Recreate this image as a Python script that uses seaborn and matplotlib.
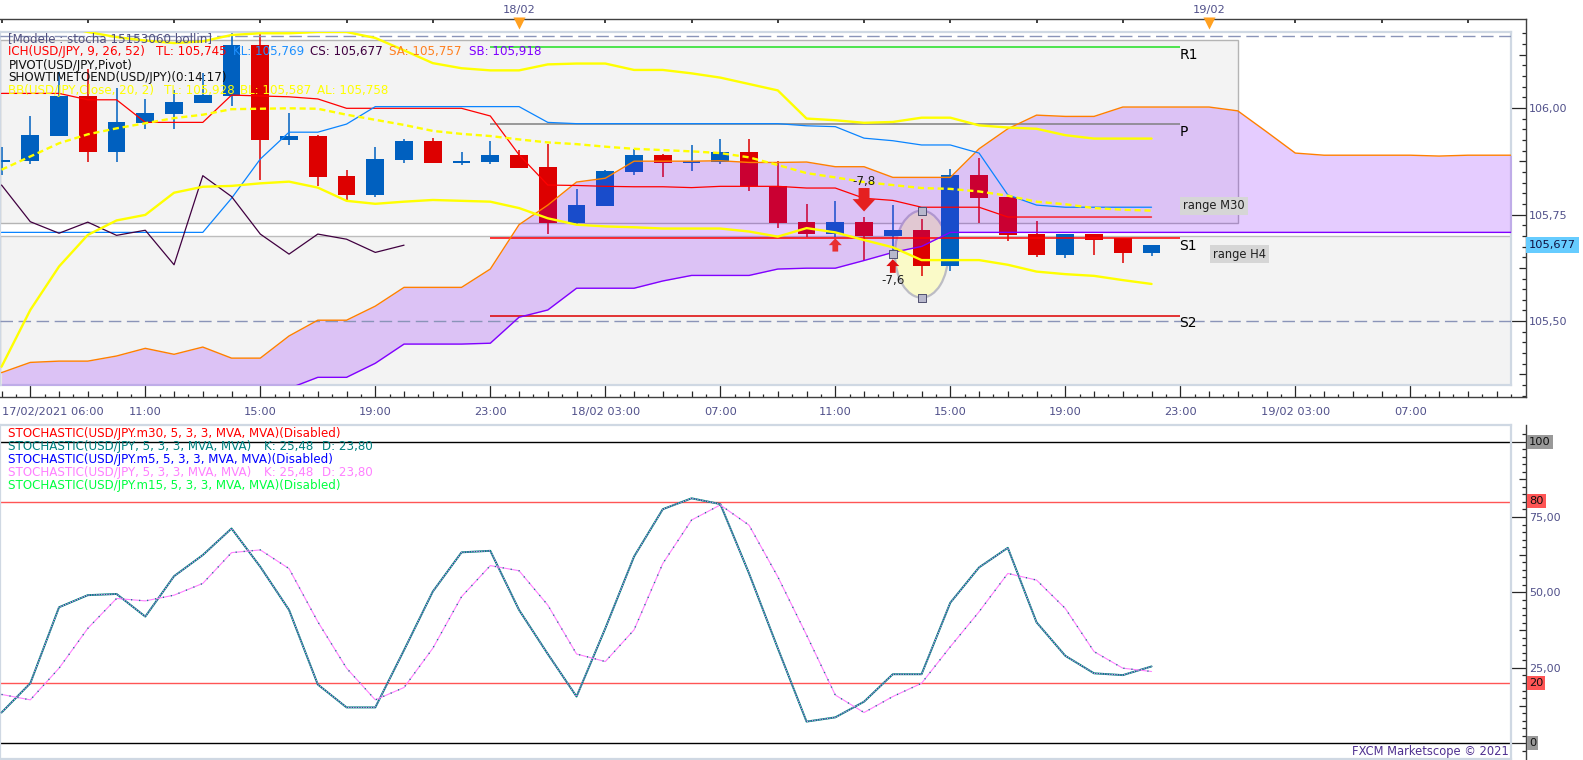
import numpy as np
import matplotlib
matplotlib.use('Agg')
import matplotlib.pyplot as plt
from matplotlib.patches import Ellipse, Rectangle
import seaborn as sns

W, H = 1583, 760

# hours counted from 17/02 00:00
hours = list(range(6, 47))
cloud_hours = list(range(6, 60))

candle_open = [105.872, 105.876, 105.934, 106.028, 105.897, 105.965, 105.986, 106.012, 106.028, 106.148,
               105.925, 105.934, 105.840, 105.796, 105.878, 105.923, 105.871, 105.873, 105.890, 105.862,
               105.730, 105.770, 105.850, 105.890, 105.871, 105.873, 105.897, 105.817, 105.733, 105.704,
               105.733, 105.700, 105.714, 105.629, 105.843, 105.791, 105.704, 105.655, 105.704, 105.694, 105.660]
candle_close = [105.878, 105.937, 106.028, 105.897, 105.967, 105.988, 106.014, 106.030, 106.148, 105.925,
                105.934, 105.838, 105.796, 105.880, 105.923, 105.871, 105.875, 105.890, 105.859, 105.730,
                105.772, 105.852, 105.890, 105.871, 105.876, 105.897, 105.817, 105.730, 105.704, 105.733,
                105.700, 105.714, 105.629, 105.843, 105.789, 105.702, 105.655, 105.704, 105.690, 105.660, 105.679]
candle_high = [105.909, 105.981, 106.085, 106.091, 106.046, 106.021, 106.042, 106.081, 106.190, 106.190,
               105.988, 105.937, 105.855, 105.909, 105.926, 105.930, 105.897, 105.923, 105.901, 105.916,
               105.810, 105.855, 105.903, 105.892, 105.913, 105.927, 105.927, 105.876, 105.775, 105.782,
               105.744, 105.772, 105.740, 105.857, 105.883, 105.791, 105.735, 105.704, 105.704, 105.694, 105.679]
candle_low = [105.843, 105.869, 105.934, 105.873, 105.873, 105.951, 105.951, 106.012, 106.005, 105.831,
              105.913, 105.817, 105.784, 105.792, 105.871, 105.871, 105.866, 105.869, 105.859, 105.704,
              105.728, 105.770, 105.843, 105.838, 105.852, 105.869, 105.805, 105.718, 105.697, 105.697,
              105.641, 105.659, 105.606, 105.618, 105.730, 105.688, 105.650, 105.648, 105.655, 105.636, 105.653]

senkou_a = [105.379, 105.403, 105.406, 105.406, 105.418, 105.436, 105.422, 105.439, 105.413, 105.413,
            105.465, 105.502, 105.502, 105.535, 105.579, 105.579, 105.579, 105.622, 105.726, 105.772,
            105.826, 105.835, 105.875, 105.875, 105.875, 105.876, 105.872, 105.872, 105.873, 105.862,
            105.862, 105.837, 105.837, 105.837, 105.904, 105.951, 105.983, 105.980, 105.980, 106.002,
            106.002, 106.002, 106.002, 105.993, 105.944, 105.894, 105.889, 105.889, 105.889, 105.889,
            105.887, 105.889, 105.889, 105.889]
senkou_b = [105.300, 105.300, 105.300, 105.300, 105.300, 105.300, 105.300, 105.300, 105.300, 105.300,
            105.342, 105.368, 105.368, 105.401, 105.446, 105.446, 105.446, 105.448, 105.509, 105.526,
            105.577, 105.577, 105.577, 105.594, 105.607, 105.607, 105.607, 105.622, 105.624, 105.624,
            105.642, 105.661, 105.675, 105.708, 105.708, 105.708, 105.708, 105.708, 105.708, 105.708,
            105.708, 105.708, 105.708, 105.708, 105.708, 105.708, 105.708, 105.708, 105.708, 105.708,
            105.708, 105.708, 105.708, 105.708]
tenkan = [106.034, 106.034, 106.034, 106.019, 106.019, 105.966, 105.966, 105.966, 106.030, 106.028,
          106.026, 106.021, 105.999, 105.999, 105.999, 105.999, 105.999, 105.981, 105.890, 105.819,
          105.818, 105.816, 105.815, 105.815, 105.813, 105.816, 105.816, 105.816, 105.812, 105.812,
          105.788, 105.783, 105.767, 105.767, 105.767, 105.744, 105.744, 105.744, 105.744, 105.744, 105.744]
kijun = [105.708, 105.708, 105.708, 105.708, 105.708, 105.708, 105.708, 105.708, 105.788, 105.880,
         105.943, 105.943, 105.962, 106.003, 106.003, 106.003, 106.003, 106.003, 106.003, 105.966,
         105.963, 105.963, 105.963, 105.963, 105.963, 105.963, 105.963, 105.963, 105.958, 105.956,
         105.929, 105.923, 105.913, 105.913, 105.894, 105.796, 105.772, 105.767, 105.767, 105.767, 105.767]
chikou = [105.819, 105.733, 105.706, 105.732, 105.701, 105.713, 105.632, 105.841, 105.792, 105.704,
          105.657, 105.704, 105.692, 105.661, 105.678]
bb_top = [106.195, 106.195, 106.195, 106.178, 106.166, 106.158, 106.152, 106.156, 106.171, 106.175,
          106.175, 106.178, 106.178, 106.164, 106.135, 106.105, 106.093, 106.088, 106.088, 106.102,
          106.104, 106.104, 106.089, 106.089, 106.081, 106.071, 106.056, 106.041, 105.975, 105.971,
          105.965, 105.967, 105.977, 105.977, 105.959, 105.954, 105.951, 105.936, 105.928, 105.928, 105.928]
bb_mid = [105.855, 105.886, 105.917, 105.938, 105.952, 105.964, 105.976, 105.984, 105.997, 105.998,
          105.999, 105.998, 105.984, 105.972, 105.960, 105.946, 105.939, 105.934, 105.926, 105.919,
          105.915, 105.909, 105.904, 105.901, 105.898, 105.894, 105.884, 105.866, 105.847, 105.837,
          105.826, 105.819, 105.812, 105.810, 105.804, 105.794, 105.780, 105.774, 105.765, 105.761, 105.759]
bb_low = [105.393, 105.526, 105.628, 105.702, 105.736, 105.749, 105.801, 105.815, 105.817, 105.823,
          105.827, 105.813, 105.782, 105.775, 105.780, 105.784, 105.782, 105.780, 105.765, 105.741,
          105.726, 105.722, 105.720, 105.717, 105.717, 105.717, 105.710, 105.698, 105.718, 105.708,
          105.690, 105.673, 105.643, 105.643, 105.643, 105.632, 105.616, 105.610, 105.606, 105.596, 105.587]

stoch_k = [10.2, 19.9, 45.1, 49.1, 49.5, 42.0, 55.4, 62.4, 71.2, 58.5,
           44.2, 19.5, 11.9, 11.9, 30.9, 50.3, 63.3, 63.8, 44.2, 29.6,
           15.5, 38.1, 61.9, 77.6, 81.2, 79.3, 56.3, 31.5, 7.2, 8.6,
           13.8, 22.9, 22.9, 46.6, 58.3, 64.8, 40.1, 29.0, 23.2, 22.6, 25.48]
stoch_d = [16.2, 14.4, 24.9, 38.1, 48.0, 47.2, 49.1, 53.0, 63.2, 64.1,
           57.9, 40.3, 24.9, 14.4, 18.5, 31.5, 48.6, 58.9, 57.2, 45.8,
           29.6, 27.1, 37.6, 59.6, 74.0, 79.0, 72.3, 55.2, 35.9, 16.0,
           10.2, 15.5, 19.9, 32.0, 43.6, 56.3, 54.1, 44.7, 30.4, 24.9, 23.80]

pivot_names = ['R1', 'P', 'S1', 'S2']
pivot_values = [106.142, 105.962, 105.694, 105.513]
pivot_colors = ['#20e020', '#808080', '#ff0000', '#dd0000']
pivot_label_y = [106.124, 105.944, 105.676, 105.496]

time_ticks = [6, 11, 15, 19, 23, 27, 31, 35, 39, 43, 47, 51, 55]
time_labels = ['17/02/2021 06:00', '11:00', '15:00', '19:00', '23:00', '18/02 03:00', '07:00',
               '11:00', '15:00', '19:00', '23:00', '19/02 03:00', '07:00']
date_hours = [24, 48]
date_labels = ['18/02', '19/02']

handle_h = [38, 38, 37]
handle_p = [105.759, 105.555, 105.657]

sns.set_theme(style='white')
plt.rcParams['font.family'] = ['DejaVu Sans']
TEXT = '#50508a'
FS = 8.0
CAPTION = 8.6
FRAME = '#cfd8e3'
AXIS = '#404040'
BLUE = '#0060bf'
RED = '#dd0000'
PX_HOUR = 28.75


def px_axes(fig, left, top, right, bottom, zorder):
    return fig.add_axes([left / W, 1 - bottom / H, (right - left) / W, (bottom - top) / H], zorder=zorder)


def draw_line(ax, x, y, color, lw, zorder=6):
    sns.lineplot(x=x, y=y, ax=ax, color=color, linewidth=lw, estimator=None, errorbar=None,
                 legend=False, zorder=zorder)
    return ax.lines[-1]


def fig_text(fig, x, y, s, color, size=CAPTION, **kw):
    fig.text(x / W, 1 - y / H, s, color=color, fontsize=size, va='center', **kw)


def size_ticks(ticks, values, size_of, axis_side):
    for v, tick in zip(values, ticks):
        line = tick.tick1line if axis_side == 1 else tick.tick2line
        line.set_markersize(size_of(v) * 0.72)
        line.set_markeredgewidth(0.9)
        line.set_color(AXIS)


fig = plt.figure(figsize=(W / 100, H / 100), dpi=100, facecolor='white')

hour_left = 15 - 260.3 / PX_HOUR
main_xlim = (hour_left, 15 + (1511 - 260.3) / PX_HOUR)
frame_xlim = (hour_left, 15 + (1526 - 260.3) / PX_HOUR)

# outer scale of the price panel
ax_frame = px_axes(fig, 0, 18.7, 1526, 397, 0)
ax_frame.set_xlim(frame_xlim)
ax_frame.set_ylim(105.322, 106.2096)
ax_frame.spines['left'].set_visible(False)
for side in ['top', 'right', 'bottom']:
    ax_frame.spines[side].set_color(AXIS)
    ax_frame.spines[side].set_linewidth(1.0)
x_ticks = np.arange(6, 58.6, 0.5)
ax_frame.set_xticks(x_ticks)
ax_frame.set_xticklabels([time_labels[time_ticks.index(t)] if t in time_ticks else '' for t in x_ticks],
                         color=TEXT, fontsize=8.2)
ax_frame.xaxis.get_majorticklabels()[0].set_ha('left')
ax_frame.tick_params(axis='x', which='major', direction='in', bottom=True, top=True, pad=7.5)
size_ticks(ax_frame.xaxis.get_major_ticks(), x_ticks,
           lambda t: 12 if (t - 7) % 4 == 0 else (6.5 if t % 1 == 0 else 3), 1)
for t, tick in zip(x_ticks, ax_frame.xaxis.get_major_ticks()):
    tick.tick2line.set_visible(t % 3 == 0)
    tick.tick2line.set_markersize(3)
    tick.tick2line.set_color(AXIS)
y_ticks = np.round(np.arange(105.325, 106.2, 0.025), 3)
ax_frame.set_yticks(y_ticks)
ax_frame.set_yticklabels([f'{t:.2f}'.replace('.', ',') if round(t * 1000) % 250 == 0 else '' for t in y_ticks],
                         color=TEXT, fontsize=FS)
ax_frame.tick_params(axis='y', which='major', direction='in', left=False, right=True,
                     labelleft=False, labelright=True, pad=2)
size_ticks(ax_frame.yaxis.get_major_ticks(), y_ticks,
           lambda t: 15 if round(t * 1000) % 250 == 0 else (7 if round(t * 1000) % 125 == 0 else 4.5), 2)
sns.scatterplot(x=date_hours, y=[106.199] * 2, ax=ax_frame, marker='v', s=75, color='#ffa020',
                linewidth=0, legend=False, clip_on=False, zorder=5)
for h, s in zip(date_hours, date_labels):
    ax_frame.text(h, 1.022, s, transform=ax_frame.get_xaxis_transform(), ha='center', va='center',
                  color=TEXT, fontsize=8.2)

# price panel
ax = px_axes(fig, 0, 32, 1511, 385, 1)
ax.set_xlim(main_xlim)
ax.set_ylim(105.350, 106.178)
ax.set_xticks([])
ax.set_yticks([])
for side in ax.spines.values():
    side.set_color(FRAME)
    side.set_linewidth(1.6)

ax.add_patch(Rectangle((main_xlim[0], 105.35), main_xlim[1] - main_xlim[0], 0.35,
                       facecolor='#f3f3f3', edgecolor='#bdbdbd', lw=1, zorder=1))
ax.add_patch(Rectangle((main_xlim[0], 105.73), 49.0 - main_xlim[0], 0.43,
                       facecolor='#f3f3f3', edgecolor='#b4b4b4', lw=1, zorder=1))
ax.add_patch(Ellipse((38, 105.657), 1.85, 0.204, facecolor='#fafac8', edgecolor='#bcbcc4', lw=1.6, zorder=1.5))

colors = [BLUE if c >= o else RED for o, c in zip(candle_open, candle_close)]
ax.vlines(hours, candle_low, candle_high, colors=colors, lw=1.1, zorder=2)
ax.bar(hours, np.array(candle_close) - np.array(candle_open), bottom=candle_open, width=0.62,
       color=colors, linewidth=0, zorder=2.1)

ax.fill_between(cloud_hours, senkou_a, senkou_b, color='#8000ff', alpha=0.2, linewidth=0, zorder=3)
draw_line(ax, cloud_hours, senkou_a, '#ff7f00', 1.0)
draw_line(ax, cloud_hours, senkou_b, '#8000ff', 1.0)

for name, value, color, label_y in zip(pivot_names, pivot_values, pivot_colors, pivot_label_y):
    ax.hlines(value, 23, 47, colors=color, lw=1.1, zorder=5)
    ax.text(46.97, label_y, name, color='black', fontsize=10, va='center', zorder=9)

draw_line(ax, hours, tenkan, '#ff0000', 0.9)
draw_line(ax, hours, kijun, '#0a84ff', 0.9)
draw_line(ax, hours[:15], chikou, '#400040', 0.9)
draw_line(ax, hours, bb_top, '#ffff00', 1.7, zorder=7)
draw_line(ax, hours, bb_low, '#ffff00', 1.7, zorder=7)
draw_line(ax, hours, bb_mid, '#ffff00', 1.7, zorder=7).set_linestyle((0, (2.6, 1.6)))

for level in [106.168, 105.501]:
    ax.axhline(level, color='#8a94b8', lw=1.0, dashes=(9, 4), zorder=4)

arrow_kw = dict(length_includes_head=True, linewidth=0, zorder=8)
ax.arrow(36, 105.812, 0, -0.055, width=0.38, head_width=0.8, head_length=0.029, color='#e52020', **arrow_kw)
ax.arrow(35, 105.663, 0, 0.031, width=0.2, head_width=0.45, head_length=0.016, color='#e83030', **arrow_kw)
ax.arrow(37, 105.613, 0, 0.032, width=0.2, head_width=0.45, head_length=0.016, color='#e01010', **arrow_kw)
ax.text(36, 105.827, '-7,8', color='#202020', fontsize=CAPTION, ha='center', va='center', zorder=9)
ax.text(37, 105.596, '-7,6', color='#202020', fontsize=CAPTION, ha='center', va='center', zorder=9)
sns.scatterplot(x=handle_h, y=handle_p, ax=ax, marker='s', s=28, color='#b8b8cc', edgecolor='#505070',
                linewidth=0.7, legend=False, zorder=9)
for h, p, s in [(48.17, 105.77, 'range M30'), (49.06, 105.657, 'range H4')]:
    ax.text(h, p, s, color='#202020', fontsize=8.3, ha='center', va='center', zorder=9,
            bbox=dict(facecolor='#d6d6d6', edgecolor='none', pad=2.0))

# stochastic panel
ax_scale = px_axes(fig, 0, 425, 1526, 759, 0)
ax_scale.set_xlim(frame_xlim)
ax_scale.set_ylim(-5.2, 105.5)
ax_scale.set_xticks([])
for side in ['left', 'top', 'bottom']:
    ax_scale.spines[side].set_visible(False)
ax_scale.spines['right'].set_color(AXIS)
ax_scale.spines['right'].set_linewidth(1.0)
low_ticks = np.arange(-2.5, 105, 2.5)
ax_scale.set_yticks(low_ticks)
ax_scale.set_yticklabels([f'{t:.2f}'.replace('.', ',') if t in (25, 50, 75) else '' for t in low_ticks],
                         color=TEXT, fontsize=FS)
ax_scale.tick_params(axis='y', direction='in', left=False, right=True, labelleft=False, labelright=True, pad=2)
size_ticks(ax_scale.yaxis.get_major_ticks(), low_ticks,
           lambda t: 15 if t % 25 == 0 else (7 if t % 12.5 == 0 else 4.5), 2)

ax_low = px_axes(fig, 0, 425, 1511, 759, 1)
ax_low.set_xlim(main_xlim)
ax_low.set_ylim(-5.2, 105.5)
ax_low.set_xticks([])
ax_low.set_yticks([])
for side in ax_low.spines.values():
    side.set_color(FRAME)
    side.set_linewidth(1.6)
for level, color in [(100, 'black'), (0, 'black'), (80, '#ff5555'), (20, '#ff5555')]:
    ax_low.axhline(level, color=color, lw=1.0, zorder=2)
draw_line(ax_low, hours, stoch_k, '#008080', 1.4)
draw_line(ax_low, hours, stoch_k, '#ff80ff', 0.7, zorder=7).set_linestyle((0, (1.2, 1.4)))
draw_line(ax_low, hours, stoch_d, '#ff80ff', 0.8)
draw_line(ax_low, hours, stoch_d, '#008080', 1.0, zorder=7).set_linestyle((0, (0.8, 5)))

# indicator captions
fig_text(fig, 8.5, 39, '[Modele : stocha 15153060 bollin]', '#505080')
fig_text(fig, 8.5, 52, 'ICH(USD/JPY, 9, 26, 52)', '#ff0000')
fig_text(fig, 156, 52, 'TL: 105,745', '#ff0000')
fig_text(fig, 232.6, 52, 'KL: 105,769', '#1e90ff')
fig_text(fig, 309.7, 52, 'CS: 105,677', '#400040')
fig_text(fig, 388.8, 52, 'SA: 105,757', '#ff8020')
fig_text(fig, 468.6, 52, 'SB: 105,918', '#8000ff')
fig_text(fig, 8.5, 65, 'PIVOT(USD/JPY,Pivot)', '#101010')
fig_text(fig, 8.5, 77.5, 'SHOWTIMETOEND(USD/JPY)(0:14:17)', '#101010')
fig_text(fig, 8.5, 90.5, 'BB(USD/JPY,Close, 20, 2)', '#ffff00')
fig_text(fig, 164, 90.5, 'TL: 105,928', '#ffff00')
fig_text(fig, 240, 90.5, 'BL: 105,587', '#ffff00')
fig_text(fig, 317, 90.5, 'AL: 105,758', '#ffff00')

fig_text(fig, 8.5, 433, 'STOCHASTIC(USD/JPY.m30, 5, 3, 3, MVA, MVA)(Disabled)', '#ff0000')
fig_text(fig, 8.5, 446, 'STOCHASTIC(USD/JPY, 5, 3, 3, MVA, MVA)', '#008080')
fig_text(fig, 264, 446, 'K: 25,48', '#008080')
fig_text(fig, 322, 446, 'D: 23,80', '#008080')
fig_text(fig, 8.5, 459, 'STOCHASTIC(USD/JPY.m5, 5, 3, 3, MVA, MVA)(Disabled)', '#0000ff')
fig_text(fig, 8.5, 472, 'STOCHASTIC(USD/JPY, 5, 3, 3, MVA, MVA)', '#ff80ff')
fig_text(fig, 264, 472, 'K: 25,48', '#ff80ff')
fig_text(fig, 322, 472, 'D: 23,80', '#ff80ff')
fig_text(fig, 8.5, 485, 'STOCHASTIC(USD/JPY.m15, 5, 3, 3, MVA, MVA)(Disabled)', '#00ff40')
fig_text(fig, 1509, 752, 'FXCM Marketscope © 2021', '#503090', size=8.3, ha='right', zorder=10)

# value boxes on the right scale
fig_text(fig, 1529, 245, '105,677', '#101040', size=8.2, bbox=dict(facecolor='#66ccff', edgecolor='none', pad=2.5))
fig_text(fig, 1529, 441.7, '100', '#101010', size=8.2, bbox=dict(facecolor='#999999', edgecolor='none', pad=1.5))
fig_text(fig, 1529, 501.3, '80', '#101010', size=8.2, bbox=dict(facecolor='#ff5555', edgecolor='none', pad=1.5))
fig_text(fig, 1529, 683.3, '20', '#101010', size=8.2, bbox=dict(facecolor='#ff5555', edgecolor='none', pad=1.5))
fig_text(fig, 1529, 743.3, '0', '#101010', size=8.2, bbox=dict(facecolor='#999999', edgecolor='none', pad=1.5))

fig.savefig('out.png', dpi=100, facecolor='white')
